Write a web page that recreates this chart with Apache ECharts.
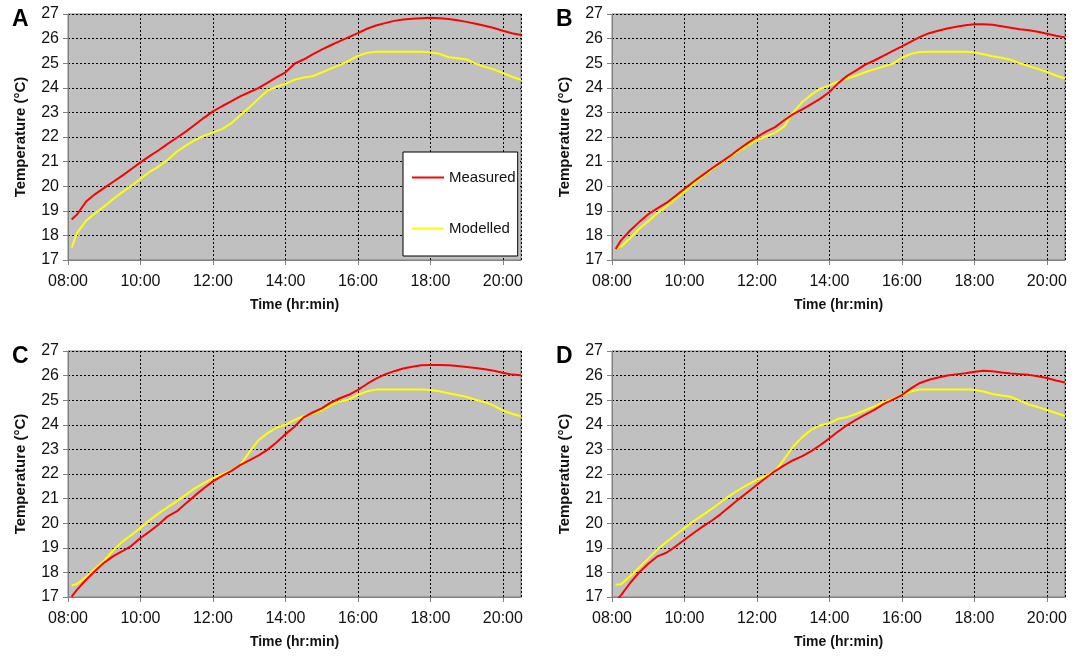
<!DOCTYPE html>
<html>
<head>
<meta charset="utf-8">
<script src="https://cdn.jsdelivr.net/npm/echarts@6/dist/echarts.min.js"></script>
<style>
  html, body { margin: 0; padding: 0; background: #fff; }
  #chart { width: 1072px; height: 656px; }
</style>
</head>
<body>
<div id="chart"></div>
<script>
// time in hours, shared by every series
const times = [
  8.1, 8.25, 8.5, 8.75, 9, 9.25, 9.5, 9.75, 10, 10.25, 10.5, 10.75,
  11, 11.25, 11.5, 11.75, 12, 12.25, 12.5, 12.75, 13, 13.25, 13.5, 13.75,
  14, 14.25, 14.5, 14.75, 15, 15.25, 15.5, 15.75, 16, 16.25, 16.5, 16.75,
  17, 17.25, 17.5, 17.75, 18, 18.25, 18.5, 18.75, 19, 19.25, 19.5, 19.75,
  20, 20.25, 20.5
]
const panelLabels = ['A', 'B', 'C', 'D']
const seriesNames = ['Measured', 'Modelled']

// panel A
const measuredA = [
  18.65, 18.85, 19.38, 19.68, 19.93, 20.18, 20.43, 20.7, 20.97, 21.22, 21.46, 21.72,
  21.97, 22.22, 22.5, 22.78, 23.04, 23.25, 23.45, 23.65, 23.82, 23.99, 24.2, 24.42,
  24.63, 24.98, 25.15, 25.36, 25.55, 25.73, 25.9, 26.06, 26.22, 26.4, 26.53, 26.63,
  26.72, 26.78, 26.81, 26.83, 26.85, 26.83, 26.8, 26.75, 26.68, 26.6, 26.52, 26.43,
  26.32, 26.22, 26.15
]
const modelledA = [
  17.5, 18.1, 18.6, 18.9, 19.18, 19.48, 19.76, 20.02, 20.3, 20.58, 20.8, 21.07,
  21.4, 21.65, 21.87, 22.05, 22.19, 22.32, 22.55, 22.88, 23.2, 23.55, 23.88, 24.04,
  24.16, 24.33, 24.42, 24.47, 24.62, 24.78, 24.92, 25.1, 25.3, 25.42, 25.47, 25.47,
  25.47, 25.47, 25.47, 25.47, 25.44, 25.38, 25.24, 25.2, 25.15, 24.98, 24.85, 24.75,
  24.6, 24.45, 24.33
]
// panel B
const measuredB = [
  17.45, 17.8, 18.2, 18.54, 18.86, 19.1, 19.32, 19.6, 19.9, 20.18, 20.45, 20.72,
  20.97, 21.22, 21.5, 21.76, 22.0, 22.22, 22.4, 22.68, 22.93, 23.12, 23.34, 23.56,
  23.83, 24.2, 24.5, 24.72, 24.95, 25.12, 25.31, 25.5, 25.68, 25.88, 26.07, 26.22,
  26.32, 26.41, 26.48, 26.54, 26.58, 26.58, 26.56, 26.5, 26.44, 26.38, 26.34, 26.28,
  26.2, 26.12, 26.05
]
const modelledB = [
  17.47, 17.55, 17.88, 18.27, 18.58, 18.9, 19.18, 19.48, 19.78, 20.08, 20.39, 20.67,
  20.93, 21.18, 21.43, 21.66, 21.88, 22.02, 22.18, 22.42, 23.0, 23.42, 23.72, 23.96,
  24.1, 24.26, 24.38, 24.5, 24.64, 24.76, 24.87, 24.98, 25.22, 25.38, 25.46, 25.47,
  25.47, 25.47, 25.47, 25.47, 25.44, 25.36, 25.28, 25.22, 25.14, 25.0, 24.88, 24.77,
  24.64, 24.5, 24.38
]
// panel C
const measuredC = [
  17.02, 17.3, 17.7, 18.07, 18.4, 18.66, 18.86, 19.08, 19.4, 19.66, 19.95, 20.28,
  20.48, 20.8, 21.12, 21.42, 21.7, 21.92, 22.12, 22.36, 22.55, 22.75, 22.98, 23.28,
  23.62, 23.92, 24.3, 24.5, 24.67, 24.9, 25.08, 25.22, 25.42, 25.66, 25.88, 26.05,
  26.18, 26.29, 26.36, 26.42, 26.43, 26.43, 26.42, 26.39, 26.35, 26.31, 26.26, 26.2,
  26.12, 26.04, 26.01
]
const modelledC = [
  17.47, 17.53, 17.82, 18.15, 18.48, 18.9, 19.25, 19.52, 19.81, 20.12, 20.4, 20.65,
  20.89, 21.15, 21.42, 21.63, 21.83, 21.98, 22.14, 22.36, 22.88, 23.36, 23.65, 23.88,
  24.0, 24.2, 24.35, 24.45, 24.58, 24.8, 24.95, 25.02, 25.22, 25.36, 25.43, 25.43,
  25.43, 25.43, 25.43, 25.43, 25.41, 25.36, 25.28, 25.21, 25.13, 25.02, 24.92, 24.78,
  24.58, 24.45, 24.35
]
// panel D
const measuredD = [
  16.82, 17.08, 17.57, 18.0, 18.35, 18.65, 18.8, 19.05, 19.33, 19.6, 19.86, 20.1,
  20.37, 20.68, 20.98, 21.27, 21.56, 21.85, 22.12, 22.35, 22.56, 22.73, 22.93, 23.18,
  23.45, 23.74, 24.0, 24.22, 24.42, 24.62, 24.85, 25.02, 25.21, 25.48, 25.7, 25.83,
  25.92, 26.0, 26.05, 26.1, 26.16, 26.2, 26.18, 26.13, 26.09, 26.06, 26.03, 25.97,
  25.9, 25.8, 25.72
]
const modelledD = [
  17.5, 17.52, 17.84, 18.2, 18.56, 18.93, 19.23, 19.52, 19.8, 20.08, 20.33, 20.58,
  20.85, 21.12, 21.36, 21.57, 21.76, 21.93, 22.12, 22.6, 23.12, 23.5, 23.8, 23.98,
  24.06, 24.25, 24.32, 24.45, 24.6, 24.76, 24.92, 25.05, 25.21, 25.35, 25.44, 25.44,
  25.44, 25.44, 25.44, 25.44, 25.42, 25.35, 25.25, 25.19, 25.14, 24.98, 24.82, 24.72,
  24.6, 24.48, 24.36
]

const measured = [measuredA, measuredB, measuredC, measuredD]
const modelled = [modelledA, modelledB, modelledC, modelledD]

const font = 'Liberation Sans, Arial, sans-serif'
const axisGrey = '#808080'
// plot boxes: [left, top]
const boxes = [[68, 14], [612, 14], [68, 351], [612, 351]]
const boxW = 453
const boxH = 246

const pad2 = (h) => (h < 10 ? '0' : '') + h + ':00'

const chart = echarts.init(document.getElementById('chart'))

const option = {
  animation: false,
  backgroundColor: '#fff',
  textStyle: { fontFamily: font },
  title: panelLabels.map((t, i) => ({
    text: t,
    left: boxes[i][0] - 56,
    top: boxes[i][1] - 6,
    padding: 0,
    textStyle: { fontFamily: font, fontSize: 23, fontWeight: 'bold', color: '#000' }
  })),
  legend: {
    data: seriesNames,
    orient: 'vertical',
    left: 403,
    top: 152,
    backgroundColor: '#fff',
    borderColor: '#000',
    borderWidth: 1,
    padding: [18, 2, 20, 8],
    itemGap: 36,
    itemWidth: 32,
    itemHeight: 14,
    // hide the circle drawn on the line icon
    itemStyle: { opacity: 0 },
    textStyle: { fontFamily: font, fontSize: 15, color: '#111' }
  },
  grid: boxes.map(b => ({
    left: b[0],
    top: b[1],
    width: boxW,
    height: boxH,
    show: true,
    backgroundColor: '#c0c0c0',
    borderColor: axisGrey,
    borderWidth: 1,
    containLabel: false
  })),
  xAxis: boxes.map((b, i) => ({
    type: 'value',
    gridIndex: i,
    min: 8,
    max: 20.5,
    interval: 2,
    name: 'Time (hr:min)',
    nameLocation: 'middle',
    nameGap: 38,
    nameTextStyle: { fontFamily: font, fontSize: 14, fontWeight: 'bold', color: '#111' },
    axisLine: { show: true, lineStyle: { color: axisGrey, width: 1 } },
    axisTick: { show: true, length: 5, lineStyle: { color: axisGrey } },
    axisLabel: {
      showMaxLabel: false,
      margin: 14,
      fontFamily: font,
      fontSize: 16,
      color: '#111',
      formatter: v => (Number.isInteger(v) ? pad2(v) : '')
    },
    splitLine: { show: true, lineStyle: { color: '#000', width: 1, type: [2, 2] } }
  })),
  yAxis: boxes.map((b, i) => ({
    type: 'value',
    gridIndex: i,
    min: 17,
    max: 27,
    interval: 1,
    name: 'Temperature (°C)',
    nameLocation: 'middle',
    nameGap: 40,
    nameTextStyle: { fontFamily: font, fontSize: 15, fontWeight: 'bold', color: '#111' },
    axisLine: { show: true, lineStyle: { color: axisGrey, width: 1 } },
    axisTick: { show: true, length: 5, lineStyle: { color: axisGrey } },
    axisLabel: { margin: 9, fontFamily: font, fontSize: 16, color: '#111' },
    splitLine: { show: true, lineStyle: { color: '#000', width: 1, type: [2, 2] } }
  })),
  series: []
}

for (let i = 0; i < 4; i++) {
  option.series.push({
    name: 'Modelled',
    type: 'line',
    xAxisIndex: i,
    yAxisIndex: i,
    symbol: 'none',
    clip: true,
    lineStyle: { color: '#ffff00', width: 2 },
    itemStyle: { color: '#ffff00' },
    data: times.map((t, k) => [t, modelled[i][k]])
  })
  option.series.push({
    name: 'Measured',
    type: 'line',
    xAxisIndex: i,
    yAxisIndex: i,
    symbol: 'none',
    clip: true,
    lineStyle: { color: '#ff0000', width: 2 },
    itemStyle: { color: '#ff0000' },
    data: times.map((t, k) => [t, measured[i][k]])
  })
}

chart.setOption(option)
</script>
</body>
</html>
